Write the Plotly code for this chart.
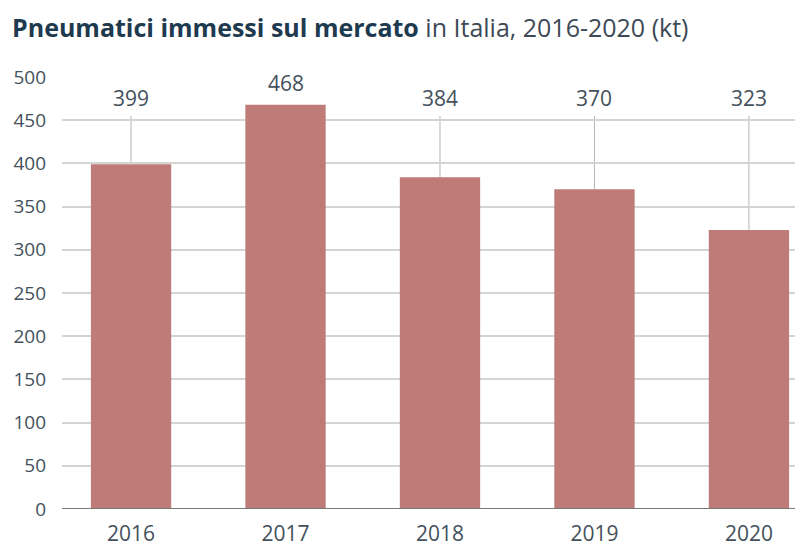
import plotly.graph_objects as go

years = ["2016", "2017", "2018", "2019", "2020"]
values = [399, 468, 384, 370, 323]
y_ticks = [0, 50, 100, 150, 200, 250, 300, 350, 400, 450, 500]

BAR = "#bf7b77"
TEXT = "#44515c"
GRID = "#d4d4d4"

# page body has an 8px margin, so the figure is offset by (8, 8)
fig = go.Figure()
fig.add_trace(go.Bar(x=list(range(len(years))), y=values, marker_color=BAR,
                     marker_line_width=0, width=0.52, hoverinfo="skip"))

LABEL_Y = 476
LINE_TOP = 455
for i, v in enumerate(values):
    ly = max(LABEL_Y, v + 25)
    fig.add_annotation(x=i, y=ly, text=str(v), showarrow=False, xref="x", yref="y",
                       font=dict(family="Open Sans", size=21, color=TEXT),
                       bgcolor="white", borderpad=2, yanchor="middle")
    if v < LINE_TOP:
        fig.add_shape(type="line", xref="x", yref="y", x0=i, x1=i, y0=v, y1=LINE_TOP,
                      line=dict(color="#b5b5b5", width=1), layer="below")

fig.update_layout(
    width=795, height=539,
    margin=dict(l=54, r=0, t=69, b=36),
    paper_bgcolor="white", plot_bgcolor="white",
    showlegend=False,
    title=dict(
        text="<b><span style='color:#1e3a4f'>Pneumatici immessi sul mercato</span></b> in Italia, 2016-2020 (kt)",
        font=dict(family="Open Sans", size=25, color="#3d4a56"),
        x=4/795, xref="container", xanchor="left",
        y=1 - 20/539, yref="container", yanchor="middle"),
    xaxis=dict(range=[-0.447, 4.35], tickmode="array", tickvals=list(range(len(years))),
               ticktext=years, showgrid=False, zeroline=False, showline=False,
               ticks="", ticklabelstandoff=10,
               tickfont=dict(family="Open Sans", size=21, color=TEXT)),
    yaxis=dict(range=[0, 500], tickmode="array", tickvals=y_ticks,
               showgrid=True, gridcolor=GRID, gridwidth=2, zeroline=False,
               showline=False, ticks="", ticklabelstandoff=15,
               tickfont=dict(family="Open Sans", size=19, color=TEXT)),
)
fig.add_shape(type="line", xref="paper", yref="y", x0=0, x1=1, y0=0, y1=0,
              line=dict(color="#7a7a7a", width=2), layer="above")

fig.write_html("out.html")
